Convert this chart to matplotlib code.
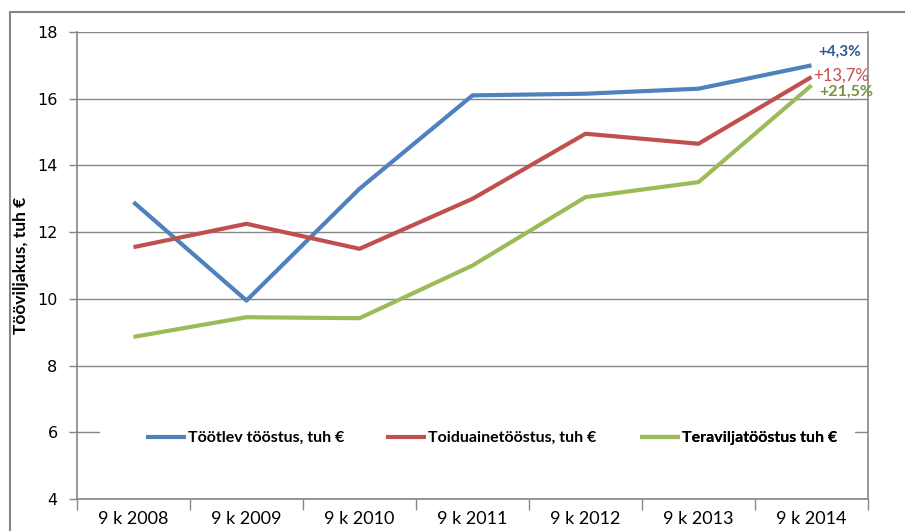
import matplotlib
matplotlib.use("Agg")
import matplotlib.pyplot as plt
from matplotlib.lines import Line2D
from matplotlib.patches import Rectangle

# andmed
aastad = ["9 k 2008", "9 k 2009", "9 k 2010", "9 k 2011", "9 k 2012", "9 k 2013", "9 k 2014"]
tootlev = [12.9, 9.95, 13.3, 16.1, 16.15, 16.3, 17.0]
toiduaine = [11.55, 12.25, 11.5, 13.0, 14.95, 14.65, 16.65]
teravili = [8.86, 9.45, 9.42, 11.0, 13.05, 13.5, 16.4]
seeria_nimed = ["Töötlev tööstus, tuh €", "Toiduainetööstus, tuh €", "Teraviljatööstus tuh €"]
muutused = ["+4,3%", "+13,7%", "+21,5%"]

varvid = ["#4F81BD", "#C0504D", "#9BBB59"]
tekstivarvid = ["#2B5A97", "#C0504D", "#76923C"]
hall = "#868686"
kitsas = ["Lato", "DejaVu Sans"]

fig = plt.figure(figsize=(9.05, 5.31), dpi=100)
W, H = 905, 531
AX_L, AX_R, AX_T, AX_B = 77, 868, 32, 499
ax = fig.add_axes([AX_L / W, 1 - AX_B / H, (AX_R - AX_L) / W, (AX_B - AX_T) / H])

def ax_x(px):
    return (px - AX_L) / (AX_R - AX_L)

def ax_y(py):
    return (AX_B - py) / (AX_B - AX_T)

x = list(range(len(aastad)))
jooned = []
for y, c in zip([tootlev, toiduaine, teravili], varvid):
    ln, = ax.plot(x, y, color=c, lw=3.0, solid_capstyle="butt", zorder=3)
    jooned.append(ln)

ax.set_xlim(-0.5, len(aastad) - 0.5)
ax.set_ylim(4, 18)
ax.set_yticks(range(4, 19, 2))
ax.grid(axis="y", color=hall, lw=1.0, zorder=0)
ax.set_axisbelow(True)

ax.set_xticks(x)
ax.set_xticklabels(aastad, fontfamily=kitsas, fontsize=13)
ax.set_xticks([i - 0.5 for i in range(len(aastad) + 1)], minor=True)
ax.tick_params(axis="x", which="major", length=0, pad=9)
ax.tick_params(axis="x", which="minor", length=8, color=hall, width=1)
ax.tick_params(axis="y", length=6, color=hall, width=1, labelsize=11.5, pad=8)

for s in ["left", "bottom", "right"]:
    ax.spines[s].set_color(hall)
    ax.spines[s].set_linewidth(1.2)
ax.spines["top"].set_visible(False)

ax.set_ylabel("Tööviljakus, tuh €", fontweight="bold", fontsize=12.5,
              fontfamily=kitsas, labelpad=6)

# valge taust legendi all
ax.add_patch(Rectangle((ax_x(100), ax_y(452)), ax_x(855) - ax_x(100), ax_y(420) - ax_y(452),
                       transform=ax.transAxes, facecolor="white", edgecolor="none", zorder=1))
# iga seeria legend eraldi, et paigutus klapiks
for ln, nimi, px in zip(jooned, seeria_nimed, [138, 378, 632]):
    leg = ax.legend([ln], [nimi], loc="center left", bbox_to_anchor=(ax_x(px), ax_y(438)),
                    frameon=False, borderpad=0, handlelength=2.5, handletextpad=0.15,
                    prop={"family": kitsas, "weight": "bold", "size": 11.5})
    ax.add_artist(leg)

# muutused protsentides
ax.text(6.06, 17.42, muutused[0], color=tekstivarvid[0], fontsize=11, fontweight="bold",
        fontfamily=kitsas, va="center", ha="left")
ax.text(6.01, 16.7, muutused[1], color=tekstivarvid[1], fontsize=12,
        fontfamily=kitsas, va="center", ha="left")
ax.text(6.07, 16.2, muutused[2], color=tekstivarvid[2], fontsize=11.5, fontweight="bold",
        fontfamily=kitsas, va="center", ha="left")

# välimine raam
fig.add_artist(Line2D([10 / W, 10 / W], [0, 1 - 12 / H], color=hall, lw=1.5))
fig.add_artist(Line2D([10 / W, 1], [1 - 12 / H, 1 - 12 / H], color=hall, lw=1.5))

fig.savefig("out.png", dpi=100)
